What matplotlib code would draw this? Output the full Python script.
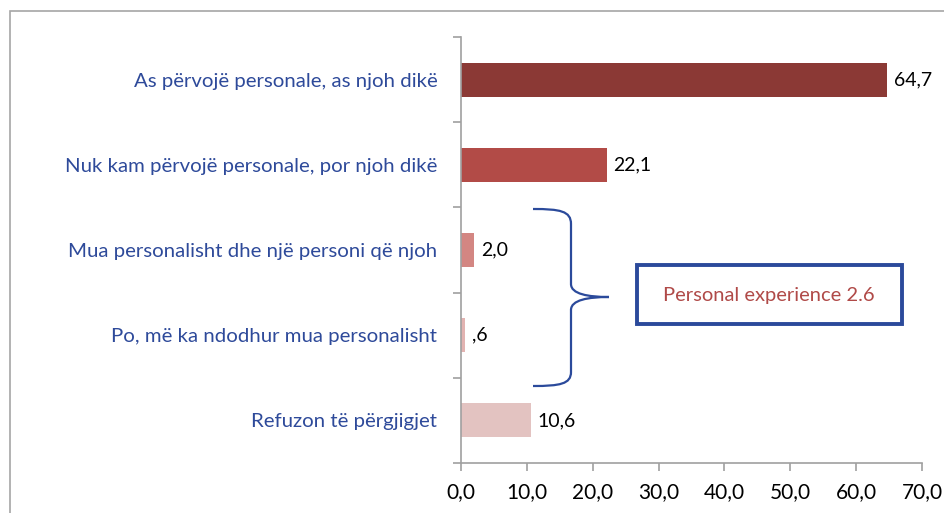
import matplotlib
matplotlib.use("Agg")
import matplotlib.pyplot as plt
from matplotlib.patches import Rectangle, PathPatch
from matplotlib.path import Path

plt.rcParams['font.family'] = ['Lato', 'DejaVu Sans']

# te dhenat
categories = [
    "As përvojë personale, as njoh dikë",
    "Nuk kam përvojë personale, por njoh dikë",
    "Mua personalisht dhe një personi që njoh",
    "Po, më ka ndodhur mua personalisht",
    "Refuzon të përgjigjet",
]
values = [64.7, 22.1, 2.0, 0.6, 10.6]
bar_colors = ["#8B3935", "#B24B47", "#D38682", "#E2B3B1", "#E3C3C1"]
xticks = [0, 10, 20, 30, 40, 50, 60, 70]
note_text = "Personal experience 2.6"

W, H = 944, 513
fig = plt.figure(figsize=(W / 100, H / 100), dpi=100)

def fx(px):
    return px / W

def fy(py):
    return 1 - py / H

# korniza gri
fig.patches.append(Rectangle((fx(10), fy(600)), fx(1000), fy(11) - fy(600),
                             transform=fig.transFigure, fill=False,
                             edgecolor="#A6A6A6", linewidth=1.2))

ax = fig.add_axes([fx(461), fy(463), fx(922) - fx(461), fy(37) - fy(463)])
ypos = list(range(len(categories)))
ax.barh(ypos, values, height=0.4, color=bar_colors)
ax.set_ylim(len(categories) - 0.5, -0.5)
ax.set_xlim(0, 70)

for y, v in zip(ypos, values):
    lab = f"{v:.1f}".replace(".", ",")
    if lab.startswith("0"):
        lab = lab[1:]
    ax.annotate(lab, (v, y), xytext=(5, 0), textcoords="offset points",
                va="center", ha="left", fontsize=14, color="black")

ax.set_xticks(xticks)
ax.set_xticklabels([f"{t:.1f}".replace(".", ",") for t in xticks], fontsize=15)
ax.set_yticks([i - 0.5 for i in range(len(categories) + 1)])
ax.set_yticklabels([])
ax.set_yticks(ypos, minor=True)
ax.set_yticklabels(categories, minor=True, fontsize=14.7, color="#2E4A9A")
ax.tick_params(axis="y", which="minor", length=0, pad=17)
ax.tick_params(axis="y", which="major", length=6, color="#A0A0A0", width=1.2)
ax.tick_params(axis="x", length=6, color="#A0A0A0", width=1.2, pad=8)
for s in ["top", "right"]:
    ax.spines[s].set_visible(False)
for s in ["left", "bottom"]:
    ax.spines[s].set_color("#A0A0A0")
    ax.spines[s].set_linewidth(1.2)

# kllapa
pts = [(533, 209), (560, 209), (571, 211), (571, 224),
       (571, 284),
       (571, 294), (588, 297), (609, 297),
       (588, 297), (571, 300), (571, 310),
       (571, 372),
       (571, 384), (560, 386), (533, 386)]
codes = [Path.MOVETO, Path.CURVE4, Path.CURVE4, Path.CURVE4,
         Path.LINETO,
         Path.CURVE4, Path.CURVE4, Path.CURVE4,
         Path.CURVE4, Path.CURVE4, Path.CURVE4,
         Path.LINETO,
         Path.CURVE4, Path.CURVE4, Path.CURVE4]
brace = Path([(fx(x), fy(y)) for x, y in pts], codes)
fig.patches.append(PathPatch(brace, transform=fig.transFigure, fill=False,
                             edgecolor="#2B4A9B", linewidth=1.6))

fig.patches.append(Rectangle((fx(637), fy(324)), fx(902) - fx(637), fy(265) - fy(324),
                             transform=fig.transFigure, fill=False,
                             edgecolor="#2B4A9B", linewidth=2.8))
fig.text(fx(769), fy(296), note_text, ha="center", va="center",
         fontsize=14.5, color="#B04A48")

fig.savefig("out.png", dpi=100)
